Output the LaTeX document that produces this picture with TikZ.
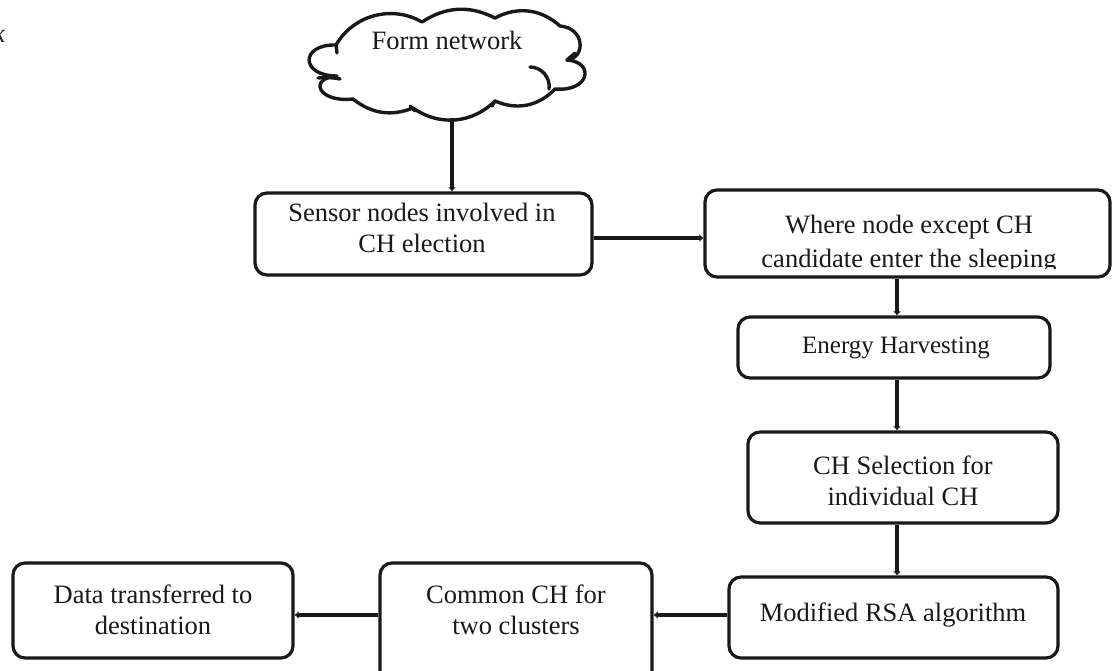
\documentclass[tikz,border=0pt]{standalone}
\usepackage{fontspec}
\setmainfont{Liberation Serif}
\usetikzlibrary{arrows.meta}
\tikzset{
  boxshape/.style={draw=black!90, line width=3.2pt, rounded corners=12pt, inner sep=0pt},
  txt/.style={align=center, inner sep=0pt, text=black!90, font=\fontsize{26.5}{31}\selectfont},
  conn/.style={draw=black!90, line width=4.8pt, -{Latex[length=4pt,width=8pt]}},
  cloudline/.style={draw=black!90, line width=3.4pt, line cap=round, line join=round},
  puff/.style={bend left=#1},
  puff/.default=40
}
\begin{document}
\begin{tikzpicture}[x=1pt,y=-1pt]
\useasboundingbox (0,0) rectangle (1112,670);
% fragment of a letter at the left edge
\node[txt, anchor=base east, font=\fontsize{26.5}{31}\selectfont\itshape] (kfrag) at (5,42) {k};
% cloud outline
\node[minimum width=279pt, minimum height=106pt, inner sep=0pt] (cloud) at (447.5,65) {};
\draw[cloudline]
  (336,45) to[puff=45] (422,22) to[puff=30] (495,18) to[puff=35] (560,26)
  .. controls (585,28) and (586,58) .. (567,60)
  .. controls (595,62) and (590,92) .. (555,89)
  to[puff=35] (495,101)
  to[puff=40] (413,108) to[puff=30] (353,99)
  .. controls (318,103) and (308,78) .. (337,76)
  .. controls (300,76) and (300,44) .. cycle;
% inner hooks of the cloud
\draw[cloudline] (336,45) -- (337,53);
\draw[cloudline] (318,78) to[bend left=8] (340,79);
\draw[cloudline] (530,67) to[bend left=50] (549,89);
\draw[cloudline] (567,60) -- (575,53);
\draw[cloudline] (410,106) -- (415,111);
\draw[cloudline] (495,101) -- (492,106);
\node[txt] (tcloud) at (447,40) {Form network};
% boxes
\node[boxshape, minimum width=337pt, minimum height=82pt] (b1) at (423.5,234) {};
\node[txt] (t1) at (422,227.5) {Sensor nodes involved in\\CH election};
\node[boxshape, minimum width=405pt, minimum height=87pt] (b2) at (907.5,233.5) {};
\begin{scope}
  \clip (705,190) rectangle (1110,268.5);
  \node[txt, font=\fontsize{26.5}{34}\selectfont] (t2) at (909,244) {Where node except CH\\candidate enter the sleeping};
\end{scope}
\node[boxshape, minimum width=312pt, minimum height=61pt] (b3) at (894,347.5) {};
\node[txt, font=\fontsize{25}{29}\selectfont] (t3) at (896,348) {Energy Harvesting};
\node[boxshape, minimum width=310pt, minimum height=91pt] (b4) at (903,477.5) {};
\node[txt] (t4) at (903,481) {CH Selection for\\individual CH};
\node[boxshape, minimum width=329pt, minimum height=81pt] (b5) at (893.5,617.5) {};
\node[txt] (t5) at (893,615) {Modified RSA algorithm};
\node[boxshape, minimum width=272pt, minimum height=127pt] (b6) at (516,626.5) {};
\node[txt] (t6) at (516,610) {Common CH for\\two clusters};
\node[boxshape, minimum width=280pt, minimum height=95pt] (b7) at (153,610.5) {};
\node[txt] (t7) at (153,610) {Data transferred to\\destination};
% connectors
\draw[conn] ([xshift=4.5pt]cloud.south) -- ([xshift=4.5pt]cloud.south |- b1.north);
\draw[conn] ([yshift=-4pt]b1.east) -- ([yshift=-4pt]b1.east -| b2.west);
\draw[conn] ([xshift=3pt]b2.south -| b3.north) -- ([xshift=3pt]b3.north);
\draw[conn] ([xshift=3pt]b3.south) -- ([xshift=3pt]b3.south |- b4.north);
\draw[conn] ([xshift=3pt]b4.south -| b3.south) -- ([xshift=3pt]b5.north -| b3.south);
\draw[conn] (b5.west |- t5) -- (b6.east |- t5);
\draw[conn] (b6.west |- t5) -- (b7.east |- t5);
\end{tikzpicture}
\end{document}
